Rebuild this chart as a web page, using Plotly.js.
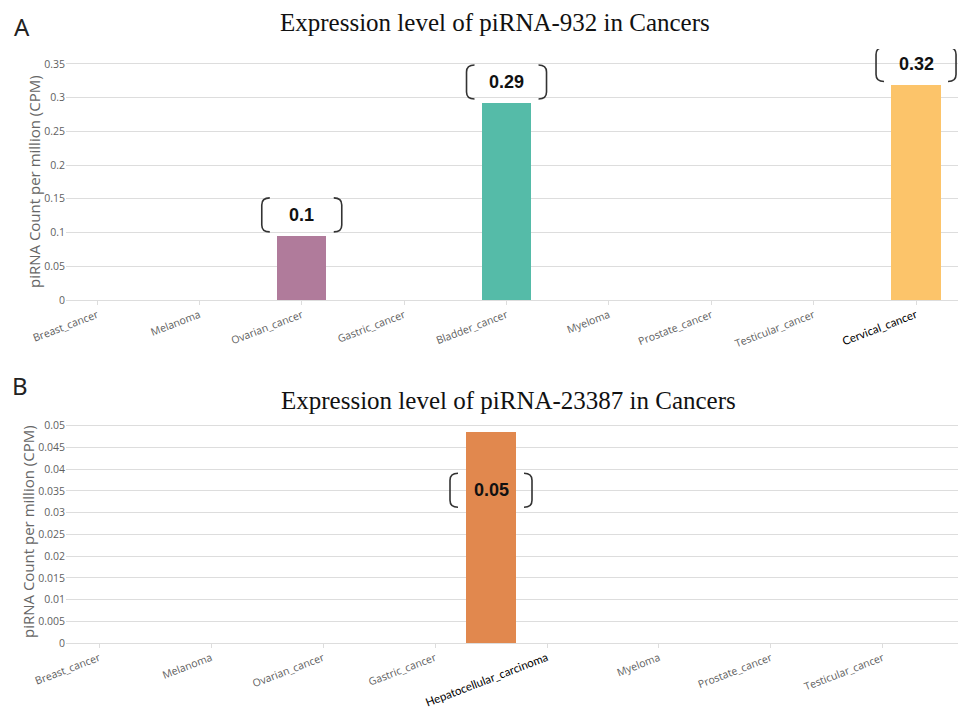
<!DOCTYPE html>
<html><head><meta charset="utf-8">
<script src="https://cdn.plot.ly/plotly-3.0.1.min.js"></script>
<style>html,body{margin:0;padding:0;background:#fff}#chart{width:958px;height:711px}</style>
</head><body><div id="chart"></div>
<script>
// ---- Data ----
const catsA = ["Breast_cancer","Melanoma","Ovarian_cancer","Gastric_cancer","Bladder_cancer","Myeloma","Prostate_cancer","Testicular_cancer","Cervical_cancer"];
const valsA = [0, 0, 0.095, 0, 0.292, 0, 0, 0, 0.318];
const labelsA = ["", "", "0.1", "", "0.29", "", "", "", "0.32"];
const colorsA = ["#999","#999","#b07b9b","#999","#55bba8","#999","#999","#999","#fcc46a"];

const catsB = ["Breast_cancer","Melanoma","Ovarian_cancer","Gastric_cancer","Hepatocellular_carcinoma","Myeloma","Prostate_cancer","Testicular_cancer"];
const valsB = [0, 0, 0, 0, 0.0485, 0, 0, 0];
const labelsB = ["", "", "", "", "0.05", "", "", ""];
const colorsB = ["#999","#999","#999","#999","#e1884e","#999","#999","#999"];

const titleA = "Expression level of piRNA-932 in Cancers";
const titleB = "Expression level of piRNA-23387 in Cancers";
const yTitle = "piRNA Count per million (CPM)";
const highlightA = "Cervical_cancer";
const highlightB = "Hepatocellular_carcinoma";

// ---- Build ----
const W = 958, H = 711;
const px = v => v / W, py = v => 1 - v / H;
const tickFont = {family: "Open Sans, Noto Sans, sans-serif", size: 10.5, color: "#5f5f5f"};
function tickText(cats, hl) {
  return cats.map(c => c === hl ? '<span style="font-family:Lato;font-size:11.5px;color:#000">' + c + '</span>' : c);
}
const barWidthA = 0.48, barWidthB = 0.44, offsetB = -0.72;

const traces = [
  {type: "bar", x: catsA.map((c, i) => i), y: valsA, marker: {color: colorsA}, width: barWidthA,
   xaxis: "x", yaxis: "y", hoverinfo: "x+y"},
  {type: "bar", x: catsB.map((c, i) => i), y: valsB, marker: {color: colorsB}, width: barWidthB, offset: offsetB,
   xaxis: "x2", yaxis: "y2", hoverinfo: "x+y"}
];

const shapes = [], annotations = [];
function bracket(xref, yref, xc, yv, halfW, b0, b1) {
  const r = 7, d = 8;
  const L = `M ${-halfW + d},${b0} Q ${-halfW},${b0} ${-halfW},${b0 + r} L ${-halfW},${b1 - r} Q ${-halfW},${b1} ${-halfW + d},${b1}`;
  const R = `M ${halfW - d},${b0} Q ${halfW},${b0} ${halfW},${b0 + r} L ${halfW},${b1 - r} Q ${halfW},${b1} ${halfW - d},${b1}`;
  [L, R].forEach(p => shapes.push({type: "path", xref, yref, xsizemode: "pixel", ysizemode: "pixel",
    xanchor: xc, yanchor: yv, path: p, line: {color: "#333", width: 1.6}}));
}
valsA.forEach((v, i) => {
  if (!labelsA[i]) return;
  bracket("x", "y", i, v, 40, 4, 38);
  annotations.push({xref: "x", yref: "y", x: i, y: v, yshift: 21, text: "<b>" + labelsA[i] + "</b>", showarrow: false,
    font: {family: "Liberation Sans, Arial, sans-serif", size: 18, color: "#111"}});
});
valsB.forEach((v, i) => {
  if (!labelsB[i]) return;
  const xc = i + offsetB + barWidthB / 2;
  bracket("x2", "y2", xc, v, 41, -75, -41);
  annotations.push({xref: "x2", yref: "y2", x: xc, y: v, yshift: -58, text: "<b>" + labelsB[i] + "</b>", showarrow: false,
    font: {family: "Liberation Sans, Arial, sans-serif", size: 18, color: "#111"}});
});

const titleFont = {family: "Liberation Serif, Times New Roman, serif", size: 25, color: "#111"};
annotations.push({xref: "paper", yref: "paper", x: px(495), y: py(23), text: titleA, showarrow: false, font: titleFont, xanchor: "center", yanchor: "middle"});
annotations.push({xref: "paper", yref: "paper", x: px(508), y: py(400), text: titleB, showarrow: false, font: titleFont, xanchor: "center", yanchor: "middle"});
const letterFont = {family: "Noto Sans, sans-serif", size: 24, color: "#222"};
annotations.push({xref: "paper", yref: "paper", x: px(22), y: py(26), text: "A", showarrow: false, font: letterFont, xanchor: "center", yanchor: "middle"});
annotations.push({xref: "paper", yref: "paper", x: px(20), y: py(386), text: "B", showarrow: false, font: letterFont, xanchor: "center", yanchor: "middle"});
const yTitleFont = {family: "Open Sans, Noto Sans, sans-serif", size: 15, color: "#666"};
annotations.push({xref: "paper", yref: "paper", x: px(34), y: py(182), text: yTitle, textangle: -90, showarrow: false, font: yTitleFont, xanchor: "center", yanchor: "middle"});
annotations.push({xref: "paper", yref: "paper", x: px(28), y: py(532), text: yTitle, textangle: -90, showarrow: false, font: yTitleFont, xanchor: "center", yanchor: "middle"});

const xCommon = {type: "linear", tickangle: -21, tickfont: tickFont, showgrid: false, zeroline: false,
  showline: true, linecolor: "#ddd", ticks: "outside", ticklen: 4, tickcolor: "#ddd", fixedrange: true};
const yCommon = {tickfont: tickFont, gridcolor: "#ddd", gridwidth: 1, zeroline: false, showline: false,
  ticks: "", fixedrange: true};

const layout = {
  width: W, height: H, margin: {l: 0, r: 0, t: 0, b: 0}, showlegend: false,
  paper_bgcolor: "#fff", plot_bgcolor: "#fff", bargap: 0,
  xaxis: Object.assign({}, xCommon, {domain: [px(66), 1], anchor: "y", range: [-0.303, 8.41],
    tickmode: "array", tickvals: catsA.map((c, i) => i), ticktext: tickText(catsA, highlightA)}),
  yaxis: Object.assign({}, yCommon, {domain: [py(300), py(49)], anchor: "x", range: [0, 0.372], dtick: 0.05}),
  xaxis2: Object.assign({}, xCommon, {domain: [px(66), 1], anchor: "y2", range: [-0.295, 7.67],
    tickmode: "array", tickvals: catsB.map((c, i) => i), ticktext: tickText(catsB, highlightB)}),
  yaxis2: Object.assign({}, yCommon, {domain: [py(643), py(421)], anchor: "x2", range: [0, 0.0511], dtick: 0.005}),
  shapes, annotations
};
Plotly.newPlot("chart", traces, layout, {displayModeBar: false, staticPlot: true});
</script></body></html>
